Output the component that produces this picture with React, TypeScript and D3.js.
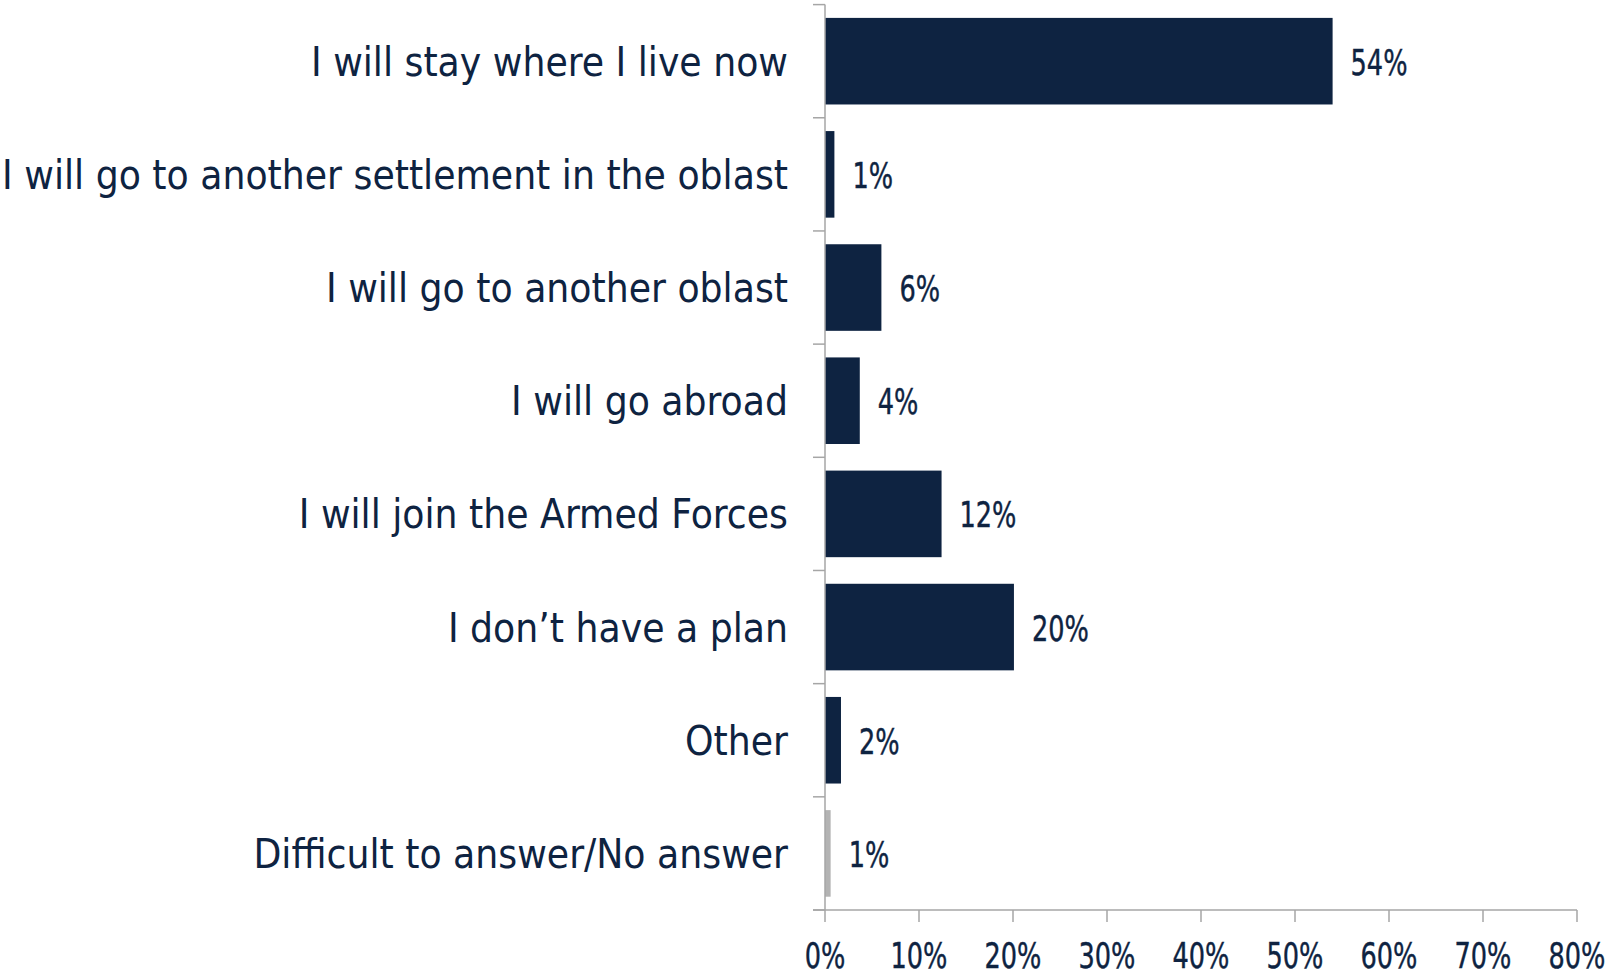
import React from "react";
import * as d3 from "d3";

const categories = [
  "I will stay where I live now",
  "I will go to another settlement in the oblast",
  "I will go to another oblast",
  "I will go abroad",
  "I will join the Armed Forces",
  "I don\u2019t have a plan",
  "Other",
  "Difficult to answer/No answer",
];
const values = [54, 1, 6, 3.7, 12.4, 20.1, 1.7, 0.6];
const valueLabels = ["54%", "1%", "6%", "4%", "12%", "20%", "2%", "1%"];
const barColors = ["#0e2341", "#0e2341", "#0e2341", "#0e2341", "#0e2341", "#0e2341", "#0e2341", "#b3b3b3"];
const xTicks = [0, 10, 20, 30, 40, 50, 60, 70, 80];

const W = 1608;
const H = 976;
const left = 825;
const right = 1577;
const top = 4.6;
const bottom = 910;
const textColor = "#0e2341";
const axisColor = "#a6a6a6";
const font = "'DejaVu Sans Condensed', 'DejaVu Sans', sans-serif";
const numScale = 0.79; // horizontal squeeze to mimic the narrow numerals

export default function App() {
  const x = d3.scaleLinear().domain([0, 80]).range([left, right]);
  const y = d3
    .scaleBand<string>()
    .domain(categories)
    .range([top, bottom])
    .paddingInner(0.235)
    .paddingOuter(0.1175);
  const step = y.step();
  const catTicks = d3.range(categories.length + 1).map((i) => top + i * step);

  return (
    <svg
      width={W}
      height={H}
      style={{ position: "absolute", left: 0, top: 0, display: "block", background: "#fff" }}
      fontFamily={font}
      fontStretch="condensed"
    >
      {categories.map((c, i) => (
        <g key={c}>
          <rect
            x={x(0)}
            y={y(c)!}
            width={x(values[i]) - x(0)}
            height={y.bandwidth()}
            fill={barColors[i]}
          />
          <text
            x={left - 37}
            y={y(c)! + y.bandwidth() / 2 + 14.5}
            textAnchor="end"
            fontSize={40.3}
            fill={textColor}
          >
            {c}
          </text>
          <text
            transform={`translate(${x(values[i]) + 18},${y(c)! + y.bandwidth() / 2 + 13.5}) scale(${numScale},1)`}
            textAnchor="start"
            fontSize={36}
            fill={textColor}
            stroke={textColor}
            strokeWidth={0.4}
          >
            {valueLabels[i]}
          </text>
        </g>
      ))}
      <line x1={left} x2={left} y1={top} y2={bottom} stroke={axisColor} strokeWidth={1.5} />
      {catTicks.map((t, i) => (
        <line key={i} x1={left - 12} x2={left} y1={t} y2={t} stroke={axisColor} strokeWidth={1.5} />
      ))}
      <line x1={left - 12} x2={right} y1={bottom} y2={bottom} stroke={axisColor} strokeWidth={1.5} />
      {xTicks.map((t) => (
        <g key={t}>
          <line x1={x(t)} x2={x(t)} y1={bottom} y2={bottom + 12} stroke={axisColor} strokeWidth={1.5} />
          <text
            transform={`translate(${x(t)},${bottom + 58}) scale(${numScale},1)`}
            textAnchor="middle"
            fontSize={36}
            fill={textColor}
            stroke={textColor}
            strokeWidth={0.4}
          >
            {`${t}%`}
          </text>
        </g>
      ))}
    </svg>
  );
}
